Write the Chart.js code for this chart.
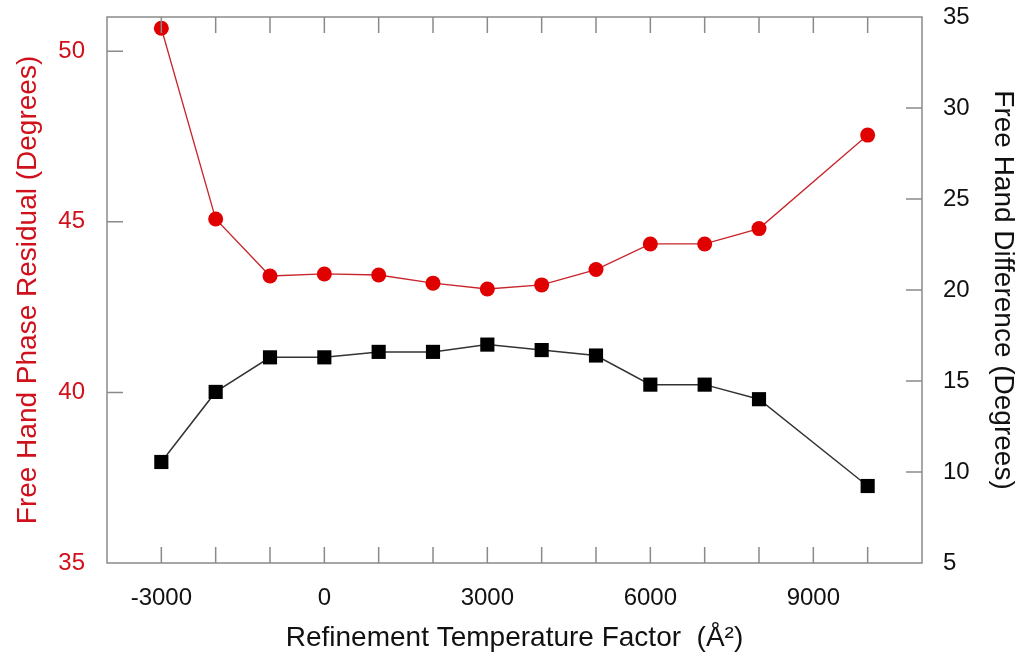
<!DOCTYPE html>
<html>
<head>
<meta charset="utf-8">
<script src="https://cdn.jsdelivr.net/npm/chart.js@4.4.0/dist/chart.umd.min.js"></script>
<style>
  html, body { margin: 0; padding: 0; background: #fff; }
  #wrap { width: 1022px; height: 660px; }
</style>
</head>
<body>
<div id="wrap"><canvas id="tempChart" width="1022" height="660"></canvas></div>
<script>
// values
const temps = [-3000, -2000, -1000, 0, 1000, 2000, 3000, 4000, 5000, 6000, 7000, 8000, 10000];
const phaseResidual = [50.67, 45.08, 43.41, 43.47, 43.44, 43.2, 43.03, 43.15, 43.6, 44.35, 44.35, 44.8, 47.54];
const handDifference = [10.55, 14.4, 16.3, 16.3, 16.6, 16.6, 17.0, 16.7, 16.4, 14.8, 14.8, 14.0, 9.23];
const xLabels = [-3000, 0, 3000, 6000, 9000];

const RED = '#d0101a';
const FONT = 'Liberation Sans, Arial, Helvetica, sans-serif';

function toPoints(ys) {
    return temps.map(function(t, i) { return { x: t, y: ys[i] }; });
}

// frame + inward tick marks, like the original plot
const frameTicks = {
    id: 'frameTicks',
    afterDatasetsDraw(chart) {
        const ctx = chart.ctx;
        const a = chart.chartArea;
        const sx = chart.scales.x, sy = chart.scales.y, sy2 = chart.scales.y2;
        ctx.save();
        ctx.strokeStyle = '#8a8a8a';
        ctx.lineWidth = 1.5;
        ctx.strokeRect(a.left, a.top, a.right - a.left, a.bottom - a.top);
        ctx.beginPath();
        sx.ticks.forEach(function(t) {
            if (t.value <= sx.min || t.value >= sx.max) return;
            const px = sx.getPixelForValue(t.value);
            ctx.moveTo(px, a.bottom); ctx.lineTo(px, a.bottom - 16);
            ctx.moveTo(px, a.top); ctx.lineTo(px, a.top + 16);
        });
        sy.ticks.forEach(function(t) {
            if (t.value <= sy.min || t.value >= sy.max) return;
            const py = sy.getPixelForValue(t.value);
            ctx.moveTo(a.left, py); ctx.lineTo(a.left + 16, py);
        });
        sy2.ticks.forEach(function(t) {
            if (t.value <= sy2.min || t.value >= sy2.max) return;
            const py = sy2.getPixelForValue(t.value);
            ctx.moveTo(a.right, py); ctx.lineTo(a.right - 16, py);
        });
        ctx.stroke();
        ctx.restore();
    }
};

function fixVertical(w) {
    return function(s) {
        s.width = w;
        s.paddingTop = 0;
        s.paddingBottom = 0;
    };
}

const ctx = document.getElementById('tempChart').getContext('2d');
const tempChart = new Chart(ctx, {
    type: 'line',
    data: {
        datasets: [
            {
                label: 'Free Hand Phase Residual',
                data: toPoints(phaseResidual),
                yAxisID: 'y',
                borderColor: '#c8242a',
                borderWidth: 1.3,
                pointStyle: 'circle',
                pointRadius: 7.5,
                pointBackgroundColor: '#e00000',
                pointBorderColor: '#e00000',
                pointBorderWidth: 0,
                tension: 0
            },
            {
                label: 'Free Hand Difference',
                data: toPoints(handDifference),
                yAxisID: 'y2',
                borderColor: '#333333',
                borderWidth: 1.5,
                pointStyle: 'rect',
                pointRadius: 10,
                pointBackgroundColor: '#000000',
                pointBorderColor: '#000000',
                pointBorderWidth: 0,
                tension: 0
            }
        ]
    },
    options: {
        responsive: false,
        animation: false,
        events: [],
        layout: { padding: { top: 17, left: 0, right: 0, bottom: 0 } },
        plugins: {
            legend: { display: false },
            tooltip: { enabled: false }
        },
        scales: {
            x: {
                type: 'linear',
                position: 'bottom',
                min: -4000,
                max: 11000,
                grid: { display: false, drawTicks: false },
                border: { display: false },
                ticks: {
                    stepSize: 1000,
                    autoSkip: false,
                    maxRotation: 0,
                    padding: 21,
                    color: '#111',
                    font: { family: FONT, size: 24 },
                    callback: function(v) { return xLabels.indexOf(v) >= 0 ? String(v) : ''; }
                },
                title: {
                    display: true,
                    text: 'Refinement Temperature Factor  (Å²)',
                    color: '#111',
                    font: { family: FONT, size: 28 },
                    padding: { top: 0, bottom: 5 }
                },
                afterFit: function(s) { s.height = 97; s.paddingLeft = 0; s.paddingRight = 0; }
            },
            y: {
                type: 'linear',
                position: 'left',
                min: 35,
                max: 51,
                grid: { display: false, drawTicks: false },
                border: { display: false },
                ticks: {
                    stepSize: 5,
                    includeBounds: false,
                    padding: 22,
                    color: RED,
                    font: { family: FONT, size: 24 }
                },
                title: {
                    display: true,
                    text: 'Free Hand Phase Residual (Degrees)',
                    color: RED,
                    font: { family: FONT, size: 28 },
                    padding: { top: 11, bottom: 0 }
                },
                afterFit: fixVertical(107)
            },
            y2: {
                type: 'linear',
                position: 'right',
                min: 5,
                max: 35,
                grid: { display: false, drawTicks: false },
                border: { display: false },
                ticks: {
                    stepSize: 5,
                    padding: 21,
                    color: '#111',
                    font: { family: FONT, size: 24 }
                },
                title: {
                    display: true,
                    text: 'Free Hand Difference (Degrees)',
                    color: '#111',
                    font: { family: FONT, size: 28 },
                    padding: { top: 2, bottom: 0 }
                },
                afterFit: fixVertical(100)
            }
        }
    },
    plugins: [frameTicks]
});
</script>
</body>
</html>
